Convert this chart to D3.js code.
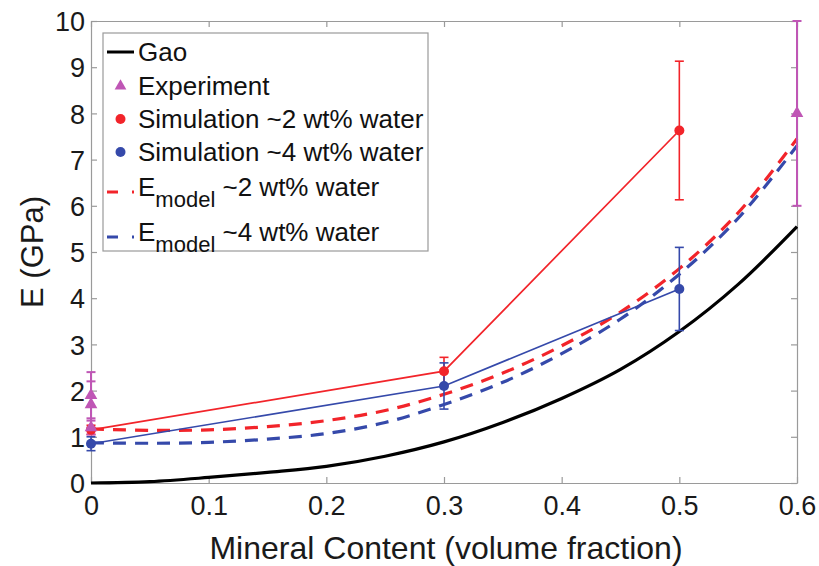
<!DOCTYPE html>
<html><head><meta charset="utf-8">
<script src="https://cdn.jsdelivr.net/npm/d3@7"></script>
<style>
html,body{margin:0;padding:0;background:#fff;}
text{font-family:"Liberation Sans",Arial,Helvetica,sans-serif;}
</style></head>
<body>
<svg id="chart" width="819" height="566"></svg>
<script>
// ---- data ----
const curveX = [0, 0.05, 0.1, 0.15, 0.2, 0.25, 0.3, 0.35, 0.4, 0.45, 0.5, 0.55, 0.6];
const gao    = [0, 0.03, 0.12, 0.23, 0.36, 0.58, 0.89, 1.31, 1.83, 2.46, 3.28, 4.30, 5.55];
const model2 = [1.17, 1.14, 1.15, 1.22, 1.35, 1.57, 1.92, 2.38, 2.97, 3.70, 4.64, 5.85, 7.45];
const model4 = [0.87, 0.86, 0.88, 0.95, 1.07, 1.31, 1.70, 2.18, 2.80, 3.55, 4.52, 5.73, 7.30];

const expX   = [0, 0, 0, 0.6];
const expY   = [1.9, 1.7, 1.2, 8.0];
const expErr = [0.5, 0.5, 0.15, 2.0];

const simX    = [0, 0.3, 0.5];
const sim2Y   = [1.15, 2.42, 7.63];
const sim2Err = [0.1, 0.3, 1.5];
const sim4Y   = [0.85, 2.1, 4.2];
const sim4Err = [0.15, 0.5, 0.9];

const xTicks = [0, 0.1, 0.2, 0.3, 0.4, 0.5, 0.6];
const xTickLabels = ["0", "0.1", "0.2", "0.3", "0.4", "0.5", "0.6"];
const yTicks = [0,1,2,3,4,5,6,7,8,9,10];

const legendLabels = ["Gao", "Experiment", "Simulation ~2 wt% water", "Simulation ~4 wt% water", "~2 wt% water", "~4 wt% water"];

// ---- styles ----
const RED = "#f2242a", BLUE = "#3549aa", MAG = "#bf56b5", AXIS = "#9a9a9a";

const svg = d3.select("#chart");
const L = 91, R = 797, T = 21, B = 483;
const x = d3.scaleLinear().domain([0, 0.6]).range([L, R]);
const y = d3.scaleLinear().domain([0, 10]).range([B, T]);

// axes (box with inward ticks)
const tickLen = 6;
const gx = svg.append("g").attr("transform", `translate(0,${B})`)
  .call(d3.axisBottom(x).tickValues(xTicks).tickSizeInner(-tickLen).tickSizeOuter(0)
    .tickFormat((d,i) => xTickLabels[i]).tickPadding(13));
const gxTop = svg.append("g").attr("transform", `translate(0,${T})`)
  .call(d3.axisTop(x).tickValues(xTicks).tickSizeInner(-tickLen).tickSizeOuter(0).tickFormat(""));
const gy = svg.append("g").attr("transform", `translate(${L},0)`)
  .call(d3.axisLeft(y).tickValues(yTicks).tickSizeInner(-tickLen).tickSizeOuter(0).tickPadding(6));
const gyR = svg.append("g").attr("transform", `translate(${R},0)`)
  .call(d3.axisRight(y).tickValues(yTicks).tickSizeInner(-tickLen).tickSizeOuter(0).tickFormat(""));
[gx, gxTop, gy, gyR].forEach(g => {
  g.selectAll("path").attr("stroke", AXIS).attr("stroke-width", 1.2);
  g.selectAll("line").attr("stroke", AXIS).attr("stroke-width", 1.2);
  g.selectAll("text").attr("font-size", 27).attr("fill", "#1a1a1a")
    .attr("font-family", "'Liberation Sans', Arial, sans-serif");
});
gx.selectAll("text").attr("dy", "0.71em");
gy.selectAll("text").attr("dy", "0.36em");

// axis titles
svg.append("text").attr("x", (L+R)/2 + 2).attr("y", 559).attr("text-anchor", "middle")
  .attr("font-size", 32).attr("fill", "#1a1a1a").text("Mineral Content (volume fraction)");
svg.append("text").attr("transform", `translate(43,${(T+B)/2}) rotate(-90)`).attr("text-anchor", "middle")
  .attr("font-size", 31).attr("fill", "#1a1a1a").text("E (GPa)");

const line = d3.line().x(d => x(d[0])).y(d => y(d[1])).curve(d3.curveCatmullRom.alpha(0.5));
const lin  = d3.line().x(d => x(d[0])).y(d => y(d[1]));

// Gao
svg.append("path").datum(curveX.map((v,i)=>[v,gao[i]])).attr("d", line)
  .attr("fill","none").attr("stroke","#000").attr("stroke-width",3.2);

// model curves
svg.append("path").datum(curveX.map((v,i)=>[v,model2[i]])).attr("d", line)
  .attr("fill","none").attr("stroke",RED).attr("stroke-width",3.2).attr("stroke-dasharray","13,9");
svg.append("path").datum(curveX.map((v,i)=>[v,model4[i]])).attr("d", line)
  .attr("fill","none").attr("stroke",BLUE).attr("stroke-width",3.2).attr("stroke-dasharray","13,9");

// error bar helper
function errBars(xs, ys, es, color, w) {
  const g = svg.append("g").attr("stroke", color).attr("stroke-width", w || 1.6).attr("fill","none");
  xs.forEach((xv,i) => {
    const cx = x(xv), y1 = y(ys[i]+es[i]), y0 = y(ys[i]-es[i]);
    g.append("line").attr("x1",cx).attr("x2",cx).attr("y1",y1).attr("y2",y0);
    g.append("line").attr("x1",cx-4.5).attr("x2",cx+4.5).attr("y1",y1).attr("y2",y1);
    g.append("line").attr("x1",cx-4.5).attr("x2",cx+4.5).attr("y1",y0).attr("y2",y0);
  });
}

// simulation lines
svg.append("path").datum(simX.map((v,i)=>[v,sim2Y[i]])).attr("d", lin)
  .attr("fill","none").attr("stroke",RED).attr("stroke-width",1.7);
svg.append("path").datum(simX.map((v,i)=>[v,sim4Y[i]])).attr("d", lin)
  .attr("fill","none").attr("stroke",BLUE).attr("stroke-width",1.7);

errBars(simX, sim2Y, sim2Err, RED);
errBars(simX, sim4Y, sim4Err, BLUE);
errBars(expX, expY, expErr, MAG, 2);

svg.append("g").selectAll("circle").data(simX).join("circle")
  .attr("cx", d=>x(d)).attr("cy",(d,i)=>y(sim2Y[i])).attr("r",5).attr("fill",RED);
svg.append("g").selectAll("circle").data(simX).join("circle")
  .attr("cx", d=>x(d)).attr("cy",(d,i)=>y(sim4Y[i])).attr("r",5).attr("fill",BLUE);

const tri = d3.symbol().type(d3.symbolTriangle).size(70);
svg.append("g").selectAll("path").data(expX).join("path")
  .attr("transform",(d,i)=>`translate(${x(d)},${y(expY[i])})`).attr("d", tri).attr("fill", MAG);

// legend
const lg = svg.append("g");
lg.append("rect").attr("x",103).attr("y",33).attr("width",325).attr("height",218)
  .attr("fill","#fff").attr("stroke",AXIS).attr("stroke-width",1.2);
const rowY = [52, 86, 119, 152, 187, 232];
const tx = 138;
lg.append("line").attr("x1",107).attr("x2",134).attr("y1",rowY[0]).attr("y2",rowY[0])
  .attr("stroke","#000").attr("stroke-width",3);
lg.append("path").attr("d", d3.symbol().type(d3.symbolTriangle).size(60))
  .attr("transform",`translate(120.5,${rowY[1]})`).attr("fill",MAG);
lg.append("circle").attr("cx",120.5).attr("cy",rowY[2]).attr("r",5).attr("fill",RED);
lg.append("circle").attr("cx",120.5).attr("cy",rowY[3]).attr("r",5).attr("fill",BLUE);
lg.append("line").attr("x1",107).attr("x2",134).attr("y1",rowY[4]+5).attr("y2",rowY[4]+5)
  .attr("stroke",RED).attr("stroke-width",3).attr("stroke-dasharray","11,14,3");
lg.append("line").attr("x1",107).attr("x2",134).attr("y1",rowY[5]+5).attr("y2",rowY[5]+5)
  .attr("stroke",BLUE).attr("stroke-width",3).attr("stroke-dasharray","11,14,3");
for (let i = 0; i < 4; i++) {
  lg.append("text").attr("x",tx).attr("y",rowY[i]).attr("dy","0.36em")
    .attr("font-size",26).attr("fill","#111").text(legendLabels[i]);
}
for (let i = 4; i < 6; i++) {
  const t = lg.append("text").attr("x",tx).attr("y",rowY[i]).attr("dy","0.36em")
    .attr("font-size",26).attr("fill","#111");
  t.append("tspan").text("E");
  t.append("tspan").attr("dy", 11).attr("font-size", 22).text("model");
  t.append("tspan").attr("dy", -11).text("\u00a0" + legendLabels[i]);
}
</script>
</body></html>
